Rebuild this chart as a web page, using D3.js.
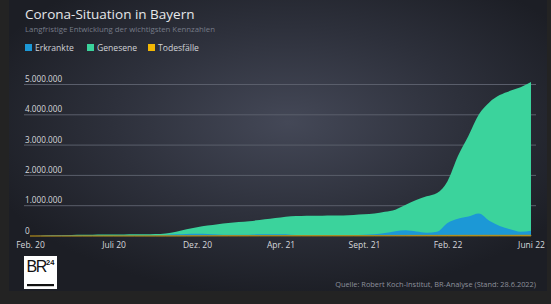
<!DOCTYPE html>
<html><head><meta charset="utf-8">
<script src="https://cdn.jsdelivr.net/npm/d3@7/dist/d3.min.js"></script>
<style>
html,body{margin:0;padding:0;background:#232323;overflow:hidden;}
svg{display:block;font-family:"Open Sans",sans-serif;}
</style></head>
<body>
<svg id="chart" width="551" height="304"></svg>
<script>
// ---- data (8 samples per label interval) ----
const xLabels = ["Feb. 20","Juli 20","Dez. 20","Apr. 21","Sept. 21","Feb. 22","Juni 22"];
const seriesNames = ["Erkrankte","Genesene","Todesfälle"];
const seriesColors = ["#1c98d6","#3bd39c","#f2b705"];
const genesene = [0.000,0.002,0.008,0.020,0.035,0.042,0.045,0.047,0.049,0.051,0.054,0.058,0.066,0.085,0.140,0.220,
  0.290,0.345,0.390,0.430,0.465,0.490,0.530,0.570,0.610,0.650,0.660,0.665,0.670,0.675,0.680,0.695,
  0.715,0.745,0.800,0.870,1.030,1.190,1.310,1.420,1.810,2.640,3.300,4.010,4.410,4.650,4.790,4.910,5.080].map(v=>v*1e6);
const erkrankte = [0.003,0.012,0.025,0.025,0.015,0.008,0.005,0.004,0.004,0.005,0.007,0.010,0.018,0.035,0.055,0.070,
  0.075,0.065,0.050,0.040,0.040,0.045,0.055,0.060,0.055,0.045,0.025,0.015,0.012,0.015,0.020,0.030,
  0.040,0.060,0.100,0.160,0.190,0.150,0.110,0.140,0.430,0.570,0.640,0.740,0.500,0.330,0.220,0.140,0.170].map(v=>v*1e6);
const todesfaelle = [0.000,0.000,0.001,0.002,0.002,0.003,0.003,0.003,0.003,0.003,0.003,0.003,0.004,0.005,0.006,0.007,
  0.009,0.011,0.012,0.013,0.013,0.014,0.014,0.015,0.015,0.015,0.015,0.015,0.016,0.016,0.016,0.016,
  0.016,0.017,0.018,0.019,0.020,0.021,0.022,0.022,0.023,0.023,0.024,0.024,0.025,0.025,0.025,0.026,0.026].map(v=>v*1e6);
const yTicks = [0,1e6,2e6,3e6,4e6,5e6];
const title = "Corona-Situation in Bayern";
const subtitle = "Langfristige Entwicklung der wichtigsten Kennzahlen";
const source = "Quelle: Robert Koch-Institut, BR-Analyse (Stand: 28.6.2022)";

const svg = d3.select("#chart");
const W = 551, H = 304;

// background
const defs = svg.append("defs");
const rg = defs.append("radialGradient").attr("id","bg")
  .attr("cx","52%").attr("cy","42%").attr("r","60%");
rg.append("stop").attr("offset","0%").attr("stop-color","#444857");
rg.append("stop").attr("offset","55%").attr("stop-color","#2d303b");
rg.append("stop").attr("offset","100%").attr("stop-color","#1c1e25");
svg.append("rect").attr("width",W).attr("height",H).attr("fill","#232323");
svg.append("rect").attr("x",9).attr("y",0).attr("width",W-13).attr("height",291).attr("fill","url(#bg)");

const n = genesene.length;
const x = d3.scaleLinear().domain([0, n-1]).range([30, 531]);
const y = d3.scaleLinear().domain([0, 5e6]).range([236, 84.5]);
const fmt = d3.formatLocale({decimal:",",thousands:".",grouping:[3],currency:["","€"]}).format(",.0f");

// gridlines + y labels
const grid = svg.append("g");
grid.selectAll("line").data(yTicks.filter(d=>d>0)).join("line")
  .attr("x1",24).attr("x2",536).attr("y1",d=>y(d)).attr("y2",d=>y(d))
  .attr("stroke","#5a5e6b").attr("stroke-width",1);
grid.selectAll("text").data(yTicks).join("text")
  .attr("x",25).attr("y",d=>y(d)-2.5).attr("fill","#d6d8dc").attr("font-size",8.2)
  .text(d=>fmt(d));

// areas
const idx = d3.range(n);
const area = vals => d3.area().x(i=>x(i)).y0(y(0)).y1(i=>y(vals[i])).curve(d3.curveMonotoneX)(idx);
svg.append("path").attr("d",area(genesene)).attr("fill",seriesColors[1]);
svg.append("path").attr("d",area(erkrankte)).attr("fill",seriesColors[0]);
svg.append("path").attr("d",area(todesfaelle)).attr("fill",seriesColors[2]).attr("stroke","#a8861c").attr("stroke-width",0.8);

// x axis labels
const xAxis = d3.axisBottom(x).tickValues(xLabels.map((d,i)=>i*8)).tickFormat((d,i)=>xLabels[i]).tickSize(0).tickPadding(6);
const gx = svg.append("g").attr("transform",`translate(0,${y(0)})`).call(xAxis);
gx.select(".domain").remove();
gx.selectAll("text").attr("fill","#d6d8dc").attr("font-size",8.5).attr("font-family","Open Sans");

// title etc
svg.append("text").attr("x",25).attr("y",19).attr("fill","#e6e7ea").attr("font-size",13.5).text(title);
svg.append("text").attr("x",25).attr("y",32).attr("fill","#767b88").attr("font-size",7.8).text(subtitle);

// legend
const legX = [25, 87, 148];
const lg = svg.append("g");
seriesNames.forEach((s,i)=>{
  lg.append("rect").attr("x",legX[i]).attr("y",44).attr("width",7).attr("height",7).attr("fill",seriesColors[i]);
  lg.append("text").attr("x",legX[i]+10).attr("y",50.5).attr("fill","#d0d2d7").attr("font-size",8.6).text(s);
});

// source
svg.append("text").attr("x",536).attr("y",287).attr("text-anchor","end").attr("fill","#8d919c").attr("font-size",7.4).text(source);

// BR24 logo
const logo = svg.append("g").attr("transform","translate(24,256)");
logo.append("rect").attr("width",33).attr("height",33).attr("fill","#ffffff");
logo.append("text").attr("x",2.5).attr("y",16).attr("font-size",16).attr("font-family","Liberation Sans").attr("fill","#111").attr("letter-spacing",-1.5).text("BR");
logo.append("text").attr("x",22).attr("y",8.5).attr("font-size",7.5).attr("font-weight","bold").attr("font-family","Liberation Sans").attr("fill","#111").text("24");
logo.append("rect").attr("x",3).attr("y",28).attr("width",27).attr("height",2.2).attr("fill","#111");
</script>
</body></html>
